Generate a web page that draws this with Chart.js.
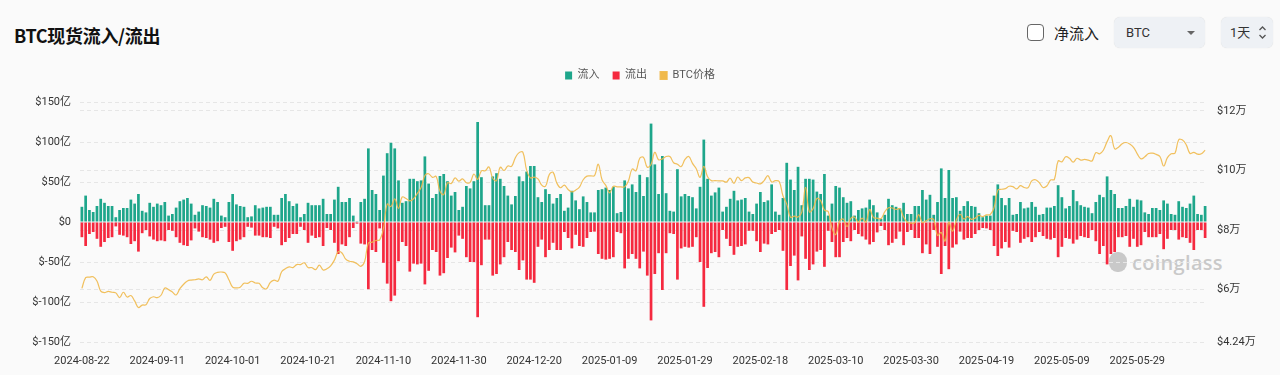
<!DOCTYPE html>
<html>
<head>
<meta charset="utf-8">
<script src="https://cdn.jsdelivr.net/npm/chart.js@4.4.1/dist/chart.umd.min.js"></script>
<style>
html,body{margin:0;padding:0;background:#fafafa;width:1280px;height:375px;overflow:hidden;font-family:Roboto,"Noto Sans CJK SC",sans-serif;}
#title{position:absolute;left:14px;top:21px;font-size:18px;line-height:28px;font-weight:700;color:#111;font-family:"Noto Sans CJK SC",sans-serif;letter-spacing:-0.3px;}
#chk{position:absolute;left:1027px;top:24px;width:15px;height:15px;border:1.5px solid #666;border-radius:4px;background:#fff;}
#net{position:absolute;left:1054px;top:21px;font-size:15px;line-height:24px;color:#222;font-family:"Noto Sans CJK SC",sans-serif;}
.sel{position:absolute;top:17px;height:31px;background:#eef1f5;border-radius:6px;box-shadow:0 0 1px rgba(0,0,0,0.15);font-size:13px;line-height:31px;color:#333;}
#s1{left:1114px;width:91px;}
#s1 span{position:absolute;left:12px;}
#s1 i{position:absolute;left:73px;top:14px;width:0;height:0;border-left:4px solid transparent;border-right:4px solid transparent;border-top:4px solid #666;}
#s2{left:1221px;width:52px;}
#s2 span{position:absolute;left:9px;font-family:Roboto,"Noto Sans CJK SC",sans-serif;}
#s2 svg{position:absolute;left:37px;top:8px;}
#wrap{position:absolute;left:0;top:57px;width:1280px;height:318px;}
#wm{position:absolute;left:1132px;top:249px;font-size:20px;font-weight:600;color:#c9c9c9;font-family:"Open Sans",sans-serif;letter-spacing:0.3px;}
#wmlogo{position:absolute;left:1109px;top:252px;width:18px;height:20px;border-radius:45%;background:#c9c9c9;}
</style>
</head>
<body>
<div id="title">BTC现货流入/流出</div>
<div id="chk"></div>
<div id="net">净流入</div>
<div class="sel" id="s1"><span>BTC</span><i></i></div>
<div class="sel" id="s2"><span>1天</span><svg width="9" height="15" viewBox="0 0 9 15"><path d="M1.5 5 L4.5 2 L7.5 5" fill="none" stroke="#555" stroke-width="1.3"/><path d="M1.5 10 L4.5 13 L7.5 10" fill="none" stroke="#555" stroke-width="1.3"/></svg></div>
<div id="wmlogo"></div>
<div id="wm">coinglass</div>
<div id="wrap"><canvas id="c" width="1280" height="318"></canvas></div>
<script>
// ---- data (inflow/outflow in 亿 USD, price in USD) ----
const startDate = '2024-08-22';
const dayCount = 299;

const inflow = [
19,33,15,12.5,20,29,24,20,20,6, 15,17.5,17.5,28,23,35,14,12,24,19, 23,21,25,8,10,18,26,28,30,23, 9,13,21,20,18,29,25,8,6,25,
35,22,20,19,6,7,21,17,18,19, 19,9,9,30,35,26,20,23,6,10, 24,21,21,21,29,10,10,28,44,25, 25,30,8,1,25,29,92,40,35,15, 58,86,99,92,52,24,26,54,54,51,
52,82,48,30,35,57.5,60,51,33,37.5, 15,19,45,42,51,125,56,21,21,57, 61,54,45,33,22,32.5,57,51,63,70, 70,31,25,41,35,23,30,35,14,18, 39,27,16,32,25,12,12,40,41,43, 40,
44,11,12.5,52,42,47,37.5,59,32.5,56, 123,72,35,82.5,36,14,13,66,32,35, 32.5,31,17,44,103,54,33,37,43,13, 19,29,39,27,28,30,13,10,23,37.5, 25,27,47,13,9,30,74,53,40,69,
21,54,54,53,38,35,60,8,23,45, 43,31,24,26,8,15,17,18,28,21, 12,4,9,29,21,19,17,24,10,10, 20,20,40,28,34,9,25,67,30,65, 30,31,14,20,26,20,19,11,6,8, 8,
33,47,30,21,30,9,10,25,17,18, 25,19,9,10,18,18,20,46,31,17, 20,40,26,21,19,18,11,25,34,31, 57,40,35,17.5,17.5,20,29,19,28,27, 12,10,17.5,17.5,15,27,23,10,9,26, 19,17.5,23,33,10,9,20
];

const outflow = [
-19,-30,-15,-12.5,-21,-31,-25,-20,-19,-5.5, -16,-17,-19,-27.5,-24,-37,-14,-10,-18,-22, -24,-23,-24,-10,-11,-19,-26,-29,-30,-23, -8,-12,-19,-20,-22,-26,-24,-7.5,-6,-25,
-36,-24,-22,-19,-6,-7,-17,-17,-19,-19, -20,-6,-8,-29,-25,-20,-15,-15,-6,-10, -26,-17,-20,-19,-30,-7.5,-10,-26,-40,-28, -30,-19,-7.5,-2,-27,-28,-84,-35,-37.5,-8, -51,-77,-99,-92,-49,-25,-30,-62,-52,-53,
-52,-78,-61,-35,-37.5,-67,-64,-45,-32,-38, -17,-21,-44,-50,-50,-119,-54,-22,-22,-67, -65,-53,-44,-25,-35,-37.5,-60,-48,-72,-72, -76,-31,-22,-44,-35,-26,-35,-35,-12.5,-20, -33,-16,-30,-31,-20,-12.5,-12,-40,-46,-47, -46,
-44,-12.5,-14,-58,-46,-40,-46,-58,-37,-67, -123,-65,-39,-85,-39,-14,-15,-72,-33,-31, -32,-31,-19,-50,-106,-57.5,-39,-37.5,-44,-10, -21,-30,-41,-31,-30,-28,-11,-11,-24,-37.5, -27,-28,-15,-12.5,-10,-36,-85,-55,-42,-73,
-18,-46,-60,-53,-37,-35,-56,-11,-25,-44, -44,-25,-20,-24,-10,-15,-18,-22,-28,-25, -13,-5,-10,-29,-26,-21,-12,-29,-12.5,-10, -20,-20,-39,-28,-40,-10,-31,-65,-30,-59, -32,-28,-12,-22,-20,-20,-15,-10,-7.5,-8, -10,
-30,-42.5,-33,-25,-32,-11,-12.5,-26,-21,-19, -25,-19,-12.5,-17.5,-21,-22,-20,-44,-31,-20, -21,-27,-22,-17.5,-19,-20,-10,-24,-40,-30, -53,-40,-37.5,-19,-19,-17.5,-31,-21,-31,-29, -12.5,-19,-19,-19,-15,-34,-21,-10,-10,-22, -19,-20,-26,-35,-10,-10,-20
];

const btcPrice = [
60400,64000,64200,64300,62900,59500,59000,59400,59100,58900,
57300,59100,57500,58000,56200,54000,54800,54900,57000,57600,57300,58100,60500,60000,59200,58200,60300,61800,62900,63200,63300,63600,63300,64300,63100,65200,65800,65900,65600,63300,
60800,60600,60800,62100,62100,62800,62200,62100,60600,60300,62400,63200,62800,66000,67000,67600,67400,68400,68400,69000,67400,67400,66700,68200,66600,67000,68000,69900,72700,72300,70200,
69500,69300,68700,67800,69400,75600,75900,76500,76700,80500,88700,87900,90500,87300,91100,90600,89800,90500,92300,94300,98300,98900,97700,98000,93000,91900,95900,95600,97500,96400,
97200,95900,96000,98800,97000,99900,99900,101200,97400,96600,101100,100000,101500,101400,104300,106000,106100,100100,97500,97800,97200,95100,94700,98600,99400,95800,94200,95100,93600,92800,93400,
94400,96900,98100,98200,98300,102100,96900,95000,92500,94700,94500,94500,94500,96500,100500,99900,104100,104400,101100,102000,106100,103600,103900,104700,104700,102600,102100,101300,103700,104700,102400,
100600,97700,101400,97900,96600,96600,96500,96500,96100,97400,95700,97800,96600,97500,97600,96100,95800,95500,96600,98300,96100,96600,96300,91500,88700,84300,84700,84400,
86000,94300,86100,87200,90600,89900,86700,86200,80700,78500,82900,83700,81100,83900,84300,82600,84000,82700,86900,84200,84000,83800,86100,87500,87400,86900,87200,84400,82600,82300,82500,
85200,82500,83100,83800,83500,78200,79200,76300,82600,79600,83400,85300,83700,84500,83600,84000,84900,84500,85100,85200,87500,93400,93700,93900,94700,94600,93800,94900,94300,94200,
96500,96900,95900,94300,94800,96800,97000,103200,102900,104600,104100,102800,104100,103500,103700,103500,103200,106000,105600,106800,109700,111700,107300,107800,109000,109400,108900,107800,105600,103900,104600,
105700,105800,105400,104700,101500,104300,105600,105800,110300,110200,108600,105700,106100,105500,105600,106800
];

const flowTicks = [-150,-100,-50,0,50,100,150];
const priceTicks = [42400,60000,80000,100000,120000];
const labelEvery = 20;

// ---- category labels (dates) ----
const labels = [];
{
  const d0 = new Date(startDate + 'T00:00:00Z');
  for (let k = 0; k < dayCount; k++) {
    const d = new Date(d0.getTime() + k * 86400000);
    labels.push(d.toISOString().slice(0, 10));
  }
}

const FONT = 'Roboto, "Noto Sans CJK SC", sans-serif';
const GREEN = '#1ea68b';
const RED = '#f5293f';
const GOLD = '#f0b94b';

const legendSpacer = {
  id: 'legendSpacer',
  beforeInit(chart) {
    const fit = chart.legend.fit;
    chart.legend.fit = function () { fit.call(this); this.height += 11; };
  }
};

new Chart(document.getElementById('c'), {
  data: {
    labels: labels,
    datasets: [
      { type: 'bar', label: '流入', data: inflow, backgroundColor: GREEN, borderWidth: 0,
        barPercentage: 0.72, categoryPercentage: 1, order: 2, yAxisID: 'y' },
      { type: 'bar', label: '流出', data: outflow, backgroundColor: RED, borderWidth: 0,
        barPercentage: 0.72, categoryPercentage: 1, order: 2, yAxisID: 'y' },
      { type: 'line', label: 'BTC价格', data: btcPrice, borderColor: 'rgba(240,185,75,0.9)', backgroundColor: GOLD,
        borderWidth: 1.2, pointRadius: 0, tension: 0.4, order: 0, yAxisID: 'y1' }
    ]
  },
  options: {
    responsive: false,
    animation: false,
    devicePixelRatio: 1,
    layout: { padding: 0 },
    plugins: {
      legend: {
        position: 'top',
        align: 'center',
        labels: { boxWidth: 7, boxHeight: 8, padding: 13, color: '#555', font: { family: FONT, size: 11 },
          sort: function (a, b) { return a.datasetIndex - b.datasetIndex; } }
      },
      tooltip: { enabled: false }
    },
    scales: {
      x: {
        stacked: true,
        offset: true,
        grid: { display: false },
        border: { display: false },
        ticks: {
          autoSkip: false, maxRotation: 0, minRotation: 0, padding: 5, color: '#333',
          font: { family: FONT, size: 11 },
          callback: function (v, i) { return i % labelEvery === 0 ? labels[i] : ''; }
        },
        afterFit: function (s) { s.height = 33; }
      },
      y: {
        position: 'left',
        stacked: true,
        min: -150, max: 150,
        grid: { color: '#e6e6e6', lineWidth: 1, drawTicks: false },
        border: { display: false, dash: [4, 3] },
        ticks: { padding: 9, color: '#333', font: { family: FONT, size: 11 },
          callback: function (v) { return v === 0 ? '$0' : '$' + v + '亿'; } },
        afterBuildTicks: function (axis) { axis.ticks = flowTicks.map(v => ({ value: v })); },
        afterFit: function (s) { s.width = 80; }
      },
      y1: {
        position: 'right',
        min: 42400, max: 123000,
        grid: { color: '#e6e6e6', lineWidth: 1, drawTicks: false },
        border: { display: false, dash: [4, 3] },
        ticks: { padding: 10, color: '#333', font: { family: FONT, size: 11 },
          callback: function (v) { return '$' + (v / 10000) + '万'; } },
        afterBuildTicks: function (axis) { axis.ticks = priceTicks.map(v => ({ value: v })); },
        afterFit: function (s) { s.width = 73; }
      }
    }
  },
  plugins: [legendSpacer]
});
</script>
</body>
</html>
